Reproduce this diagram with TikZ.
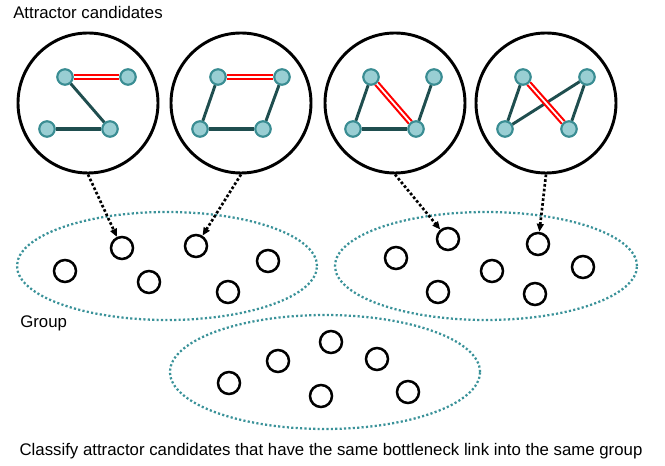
\documentclass[tikz,border=0pt]{standalone}
\usepackage{fontspec}
\setmainfont{Liberation Sans}
\usetikzlibrary{shapes.geometric,arrows.meta}
\definecolor{nodefill}{HTML}{99CED3}
\definecolor{nodeedge}{HTML}{3A8D93}
\definecolor{darkedge}{HTML}{1F4E4F}
\definecolor{grpcol}{HTML}{3A9299}
\tikzset{
  bigc/.style={circle,draw=black,line width=2.2pt,minimum size=105pt,inner sep=0pt},
  vtx/.style={circle,fill=nodefill,draw=nodeedge,line width=1.5pt,minimum size=11.5pt,inner sep=0pt},
  member/.style={circle,draw=black,fill=white,line width=1.9pt,minimum size=16.5pt,inner sep=0pt},
  grp/.style={ellipse,draw=grpcol,line width=1.7pt,dash pattern=on 1.6pt off 1.7pt,minimum width=225pt,minimum height=81pt,inner sep=0pt},
  link/.style={draw=darkedge,line width=2.2pt},
  thicklink/.style={draw=darkedge,line width=3.3pt},
  bneck/.style={draw=red,line width=1.6pt,double=white,double distance=1.3pt},
  pick/.style={draw=black,line width=2pt,dash pattern=on 2pt off 1.6pt,-{Triangle[length=6pt,width=5pt]}},
  lbl/.style={font=\fontsize{12.6pt}{15pt}\selectfont,inner sep=0pt}
}
\begin{document}
\begin{tikzpicture}[x=0.75pt,y=-0.75pt]
\useasboundingbox (0,0) rectangle (665,466);
% groups
\node[grp] (g1) at (167,266) {};
\node[grp,minimum width=226.5pt] (g2) at (486,266) {};
\node[grp,minimum width=232.5pt,minimum height=85.5pt] (g3) at (325,372) {};
% big circles
\node[bigc] (c1) at (88,103) {};
\node[bigc] (c2) at (241,103) {};
\node[bigc] (c3) at (395,103) {};
\node[bigc] (c4) at (546,103) {};
% circle 1
\node[vtx] (a1) at (65,77) {};
\node[vtx] (a2) at (128,77) {};
\node[vtx] (a3) at (47,129) {};
\node[vtx] (a4) at (110,129) {};
\draw[link] (a1) -- (a4);
\draw[thicklink] (a3) -- (a4);
\draw[bneck] (a1) -- (a2);
% circle 2
\node[vtx] (b1) at (218,77) {};
\node[vtx] (b2) at (282,77) {};
\node[vtx] (b3) at (200,129) {};
\node[vtx] (b4) at (263,129) {};
\draw[link] (b1) -- (b3);
\draw[link] (b2) -- (b4);
\draw[thicklink] (b3) -- (b4);
\draw[bneck] (b1) -- (b2);
% circle 3
\node[vtx] (d1) at (371,77) {};
\node[vtx] (d2) at (434,77) {};
\node[vtx] (d3) at (353,129) {};
\node[vtx] (d4) at (416,129) {};
\draw[link] (d1) -- (d3);
\draw[link] (d2) -- (d4);
\draw[thicklink] (d3) -- (d4);
\draw[bneck] (d1) -- (d4);
% circle 4
\node[vtx] (e1) at (523,77) {};
\node[vtx] (e2) at (587,77) {};
\node[vtx] (e3) at (505,129) {};
\node[vtx] (e4) at (569,129) {};
\draw[link] (e1) -- (e3);
\draw[link] (e2) -- (e4);
\draw[link] (e3) -- (e2);
\draw[bneck] (e1) -- (e4);
% redraw vertices on top
\foreach \n/\p in {a1/{(65,77)},a2/{(128,77)},a3/{(47,129)},a4/{(110,129)},b1/{(218,77)},b2/{(282,77)},b3/{(200,129)},b4/{(263,129)},d1/{(371,77)},d2/{(434,77)},d3/{(353,129)},d4/{(416,129)},e1/{(523,77)},e2/{(587,77)},e3/{(505,129)},e4/{(569,129)}}
  \node[vtx] at \p {};
% group 1 members
\node[member] (m11) at (122,248) {};
\node[member] (m12) at (196,246) {};
\node[member] (m13) at (65,271) {};
\node[member] (m14) at (149,282) {};
\node[member] (m15) at (268,261) {};
\node[member] (m16) at (228,292) {};
% group 2 members
\node[member] (m21) at (448,239) {};
\node[member] (m22) at (538,244) {};
\node[member] (m23) at (396,258) {};
\node[member] (m24) at (492,271) {};
\node[member] (m25) at (583,267) {};
\node[member] (m26) at (438,292) {};
\node[member] (m27) at (535,294) {};
% group 3 members
\node[member] (m31) at (331,342) {};
\node[member] (m32) at (278,361) {};
\node[member] (m33) at (377,359) {};
\node[member] (m34) at (229,383) {};
\node[member] (m35) at (321,396) {};
\node[member] (m36) at (408,392) {};
% arrows
\draw[pick] (c1.south) -- (m11);
\draw[pick] (c2.south) -- (m12);
\draw[pick] (c3.south) -- (m21);
\draw[pick] (c4.south) -- (m22);
% labels
\node[lbl,anchor=west] (t1) at (13,13) {Attractor candidates};
\node[lbl,anchor=west] (t2) at (20,323) {Group};
\node[lbl] (t3) at (331,451) {Classify attractor candidates that have the same bottleneck link into the same group};
\end{tikzpicture}
\end{document}
